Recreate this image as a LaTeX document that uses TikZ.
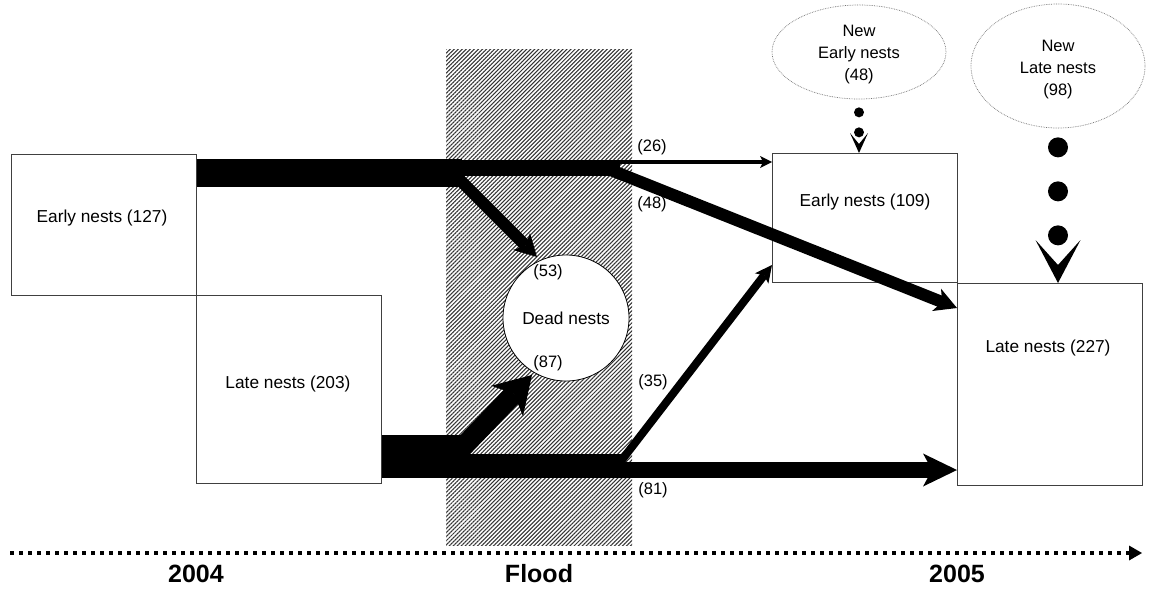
\documentclass[tikz,border=0pt]{standalone}
\usepackage{fontspec}
\setmainfont{Liberation Sans}
\usetikzlibrary{arrows.meta,patterns.meta,shapes.geometric}
\begin{document}
\begin{tikzpicture}[x=1pt,y=-1pt,
  nestbox/.style={draw=black!75,line width=0.9pt,inner sep=0pt,anchor=north west},
  boxlbl/.style={font=\fontsize{17.3}{20}\selectfont,inner sep=0pt},
  lbl/.style={font=\fontsize{16.5}{20}\selectfont,inner sep=0pt},
  newell/.style={ellipse,draw=black!55,densely dotted,line width=0.7pt,inner sep=0pt},
  newlbl/.style={align=center,inner sep=0pt,font=\fontsize{16.5}{22}\selectfont},
  yearlbl/.style={font=\fontsize{25}{30}\selectfont\bfseries,inner sep=0pt},
  flow/.style={line width=#1,line cap=butt,draw=black},
  headsmall/.style={-{Stealth[length=12pt,width=12pt,inset=3pt,line width=0pt]}},
  headmid/.style={-{Stealth[length=22pt,width=24pt,inset=6pt,line width=0pt]}},
  headthin/.style={-{Stealth[length=17pt,width=17pt,inset=4pt,line width=0pt]}},
  headbig/.style={-{Stealth[length=34pt,width=33pt,inset=9pt,line width=0pt]}},
  headhuge/.style={-{Stealth[length=36pt,width=44pt,inset=10pt,line width=0pt]}},
  dotsA/.style={line width=10pt,line cap=round,dash pattern=on 0pt off 20pt,dash phase=7pt,
     -{Stealth[length=20pt,width=18pt,inset=11pt,line width=0pt]}},
  dotsB/.style={line width=20pt,line cap=round,dash pattern=on 0pt off 44pt,dash phase=25pt,
     -{Stealth[length=43pt,width=45pt,inset=25pt,line width=0pt]}},
  timeline/.style={line width=4pt,dash pattern=on 4pt off 5pt,
     -{Triangle[length=13pt,width=15pt,line width=0pt]}}
]
\useasboundingbox (0,0) rectangle (1150,592);
\fill[white] (0,0) rectangle (1150,592);

% flood zone
\fill[pattern={Lines[angle=45,distance=2.85pt,line width=1.05pt]},pattern color=black!80] (446,49) rectangle (632,545);

% boxes
\node[nestbox,minimum width=185pt,minimum height=141pt] (e04) at (11,154) {};
\node[nestbox,minimum width=185pt,minimum height=188pt] (l04) at (196,295) {};
\node[nestbox,minimum width=185pt,minimum height=129pt] (e05) at (772,153) {};
\node[nestbox,minimum width=185pt,minimum height=202pt] (l05) at (957,283) {};

\node[boxlbl] (te04) at (102,218) {Early nests (127)};
\node[boxlbl] (tl04) at (288,384) {Late nests (203)};
\node[boxlbl] (te05) at (865,202) {Early nests (109)};
\node[boxlbl] (tl05) at (1048,348) {Late nests (227)};

% dead nests
\node[circle,draw=black,line width=0.8pt,fill=white,minimum size=126pt,inner sep=0pt,
      font=\fontsize{17.3}{20}\selectfont] (dead) at (566,318) {Dead nests};

% new nests
\node[newell,minimum width=174pt,minimum height=94pt] (ne) at (859,52) {};
\node[newell,minimum width=174pt,minimum height=124pt] (nl) at (1058,66) {};
\node[newlbl] (tne) at (859,55) {New\\Early nests\\(48)};
\node[newlbl] (tnl) at (1058,70) {New\\Late nests\\(98)};

% coordinates
\coordinate (a1) at (462,173);
\coordinate (b0) at (455,168);
\coordinate (b1) at (620,168);
\coordinate (c0) at (612,162);
\coordinate (d0) at (612,170.5);
\coordinate (d1) at (957,308);
\coordinate (f0) at (456,176);
\coordinate (f1) at (537,257);
\coordinate (g1) at (468,456.5);
\coordinate (h0) at (460,466);
\coordinate (h1) at (622,466);
\coordinate (k0) at (615,470);
\coordinate (m0) at (462,448);
\coordinate (m1) at (532,375);
\coordinate (n0) at (618,465);
\coordinate (n1) at (772,265);
\coordinate (t0) at (10,553);
\coordinate (t1) at (1142,553);

% early 2004 flows
\draw[flow=28pt] (e04.east |- a1) -- (a1);
\draw[flow=16pt] (b0) -- (b1);
\draw[flow=4pt,headsmall] (c0) -- (c0 -| e05.west);
\draw[flow=12pt,headmid] (d0) -- (d1);
\draw[flow=12pt,headmid] (f0) -- (f1);

% late 2004 flows
\draw[flow=43pt] (l04.east |- g1) -- (g1);
\draw[flow=24pt] (h0) -- (h1);
\draw[flow=16pt,headbig] (k0) -- (k0 -| l05.west);
\draw[flow=20pt,headhuge] (m0) -- (m1);
\draw[flow=8pt,headthin] (n0) -- (n1);

% new nests arrows
\draw[dotsA] (ne.south) -- (ne.south |- e05.north);
\draw[dotsB] (nl.south) -- (nl.south |- l05.north);

% labels
\node[lbl] (l26) at (652,147) {(26)};
\node[lbl] (l48) at (652,204) {(48)};
\node[lbl] (l53) at (548,272) {(53)};
\node[lbl] (l87) at (548,363) {(87)};
\node[lbl] (l35) at (653,382) {(35)};
\node[lbl] (l81) at (653,490) {(81)};

% timeline
\draw[timeline] (t0) -- (t1);
\node[yearlbl] (y04) at (196,574) {2004};
\node[yearlbl] (yfl) at (539,574) {Flood};
\node[yearlbl] (y05) at (957,574) {2005};
\end{tikzpicture}
\end{document}
